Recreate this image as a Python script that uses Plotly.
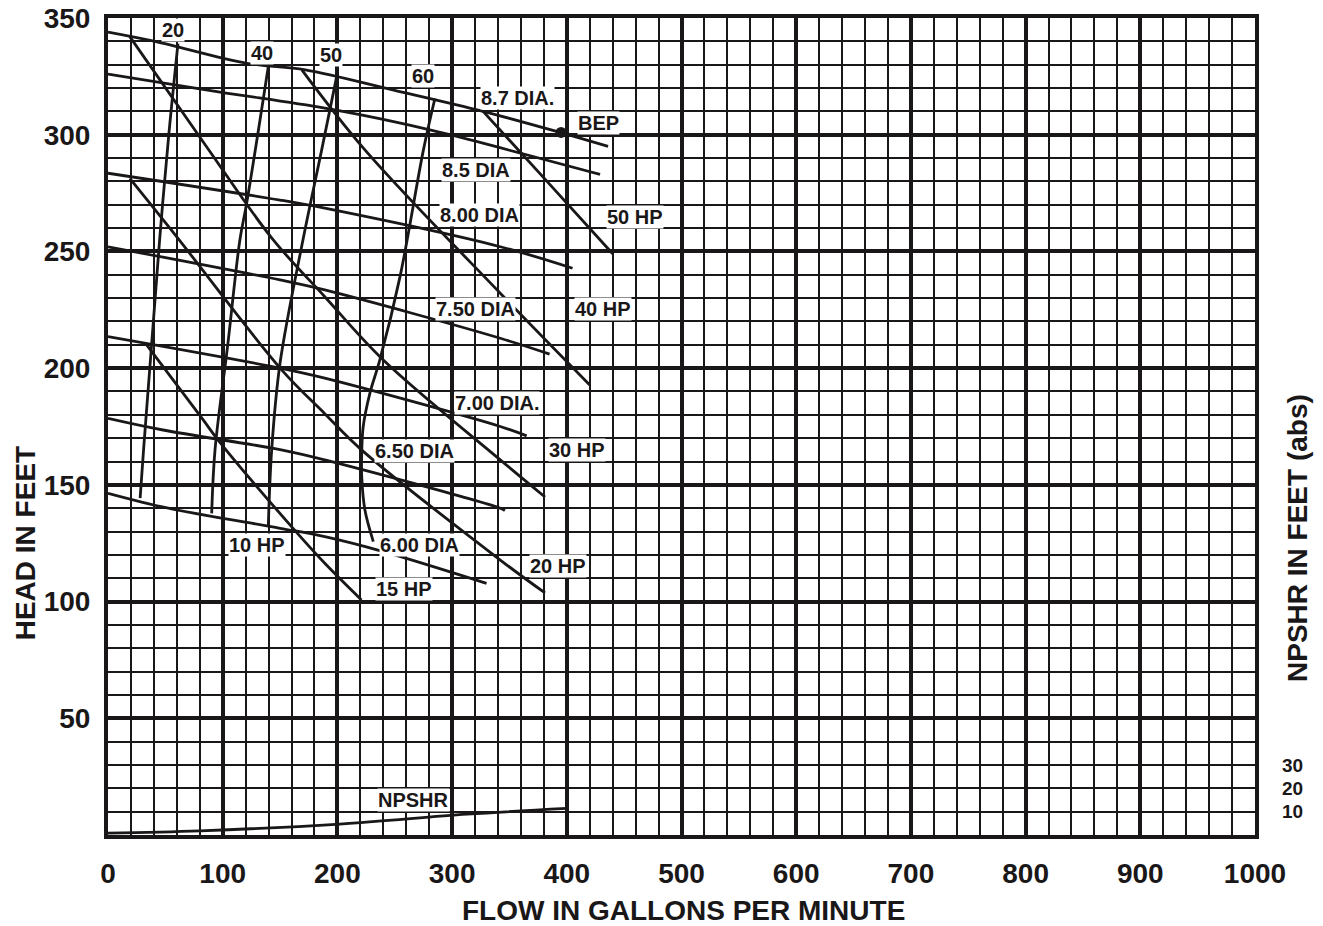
import plotly.graph_objects as go

# ---------------- data ----------------
# Impeller diameter curves (flow GPM, head ft)
dia_87_q = [0, 41, 121, 172, 250, 327, 394, 436]
dia_87_h = [344, 340, 330.6, 327.8, 319, 310, 301, 295]
dia_85_q = [0, 95, 189, 255, 298, 429]
dia_85_h = [326, 318.5, 311.4, 305, 300, 283]
dia_80_q = [0, 150, 189, 342, 405]
dia_80_h = [283.5, 272, 268.5, 252, 242.8]
dia_75_q = [0, 150, 189, 342, 385]
dia_75_h = [252, 237.8, 233.5, 212.8, 206]
dia_70_q = [0, 150, 189, 342, 365]
dia_70_h = [213.5, 200, 195.7, 175, 171]
dia_65_q = [0, 48, 151, 189, 342, 346]
dia_65_h = [178.5, 173.5, 165, 160.7, 140, 139]
dia_60_q = [0, 52.6, 150, 189, 240, 330]
dia_60_h = [146.4, 140, 131.4, 127.8, 121.4, 107.8]

# Horsepower curves
hp50_q = [327, 380, 440]
hp50_h = [310, 281.5, 249]
hp40_q = [169, 224, 342, 420]
hp40_h = [327.8, 293.5, 232.1, 192.8]
hp30_q = [19, 85, 143, 189, 240, 342, 381]
hp30_h = [342, 295.5, 255.6, 230.6, 203.5, 160.7, 144.8]
hp20_q = [19, 61, 151, 189, 221, 342, 381]
hp20_h = [281.3, 255.6, 199.5, 180.5, 165, 117.8, 103.7]
hp15_q = [33.7, 83, 96, 160, 189, 221]
hp15_h = [210, 177.8, 169.2, 132.1, 116.4, 100.7]

# Efficiency curves (%)
eff20_q = [61, 53, 45, 38, 31, 28]
eff20_h = [339, 300, 255, 210, 165, 144.3]
eff40_q = [140, 121, 115, 104.4, 93.3, 90.4]
eff40_h = [330, 271, 255, 210, 165, 137.8]
eff50_q = [199.4, 186.3, 170, 150, 142.7, 139.8]
eff50_h = [325, 293.5, 255, 202.2, 165, 132.8]
eff60_q = [285, 275, 254.6, 237, 228.3, 222.5, 221.2, 221.2, 224, 231.3]
eff60_h = [315.5, 293.5, 239.2, 203.5, 189.2, 175, 163.5, 153.5, 139.2, 125.7]

# NPSHR curve (ft abs)
npshr_q = [0, 80, 202, 313, 400]
npshr_h = [0.8, 1.8, 4.7, 8.9, 11.4]

# Best efficiency point
bep_q = [395]
bep_h = [301]

# Labels: (text, flow, head)
label_text = ["20", "40", "50", "60", "8.7 DIA.", "BEP", "8.5 DIA", "50 HP",
              "8.00 DIA", "7.50 DIA", "40 HP", "7.00 DIA.", "30 HP", "6.50 DIA",
              "6.00 DIA", "10 HP", "20 HP", "15 HP", "NPSHR"]
label_q = [57, 134, 194, 274.6, 357, 428, 321, 459.5,
           323.5, 320, 431.6, 339, 409, 267,
           272, 130, 392.3, 258, 266]
label_h = [345, 335, 334, 325, 315.8, 305, 285, 264.8,
           265.6, 225.4, 225.4, 185.1, 165, 164.5,
           124.2, 124.2, 115.3, 105.4, 15]

x_ticks = list(range(0, 1001, 100))
y_ticks = [50, 100, 150, 200, 250, 300, 350]
npshr_ticks = [10, 20, 30]

# ---------------- figure ----------------
FONT = "Liberation Sans"
INK = "#1a1718"
LINE = dict(color=INK, width=2.8)

fig = go.Figure()
curves = [
    (dia_87_q, dia_87_h), (dia_85_q, dia_85_h), (dia_80_q, dia_80_h),
    (dia_75_q, dia_75_h), (dia_70_q, dia_70_h), (dia_65_q, dia_65_h),
    (dia_60_q, dia_60_h),
    (hp50_q, hp50_h), (hp40_q, hp40_h), (hp30_q, hp30_h),
    (hp20_q, hp20_h), (hp15_q, hp15_h),
    (eff20_q, eff20_h), (eff40_q, eff40_h), (eff50_q, eff50_h), (eff60_q, eff60_h),
]
for q, h in curves:
    fig.add_trace(go.Scatter(x=q, y=h, mode="lines", line=LINE,
                             line_shape="spline", hoverinfo="skip", showlegend=False))

fig.add_trace(go.Scatter(x=npshr_q, y=npshr_h, mode="lines", line=LINE,
                         line_shape="spline", yaxis="y2", showlegend=False))
fig.add_trace(go.Scatter(x=bep_q, y=bep_h, mode="markers",
                         marker=dict(color=INK, size=11), showlegend=False))

for t, q, h in zip(label_text, label_q, label_h):
    fig.add_annotation(x=q, y=h, text=t, showarrow=False,
                       xanchor="center", yanchor="middle",
                       font=dict(family=FONT, size=20, color=INK, weight="bold"),
                       bgcolor="white", borderpad=0)

title_font = dict(family=FONT, size=28, color=INK, weight="bold")
fig.add_annotation(xref="paper", yref="paper", x=0.5017, y=-0.0918,
                   xanchor="center", yanchor="middle",
                   text="FLOW IN GALLONS PER MINUTE", showarrow=False, font=title_font)
fig.add_annotation(xref="paper", yref="paper", x=-0.0724, y=0.357,
                   xanchor="center", yanchor="middle",
                   text="HEAD IN FEET", textangle=-90, showarrow=False, font=title_font)
fig.add_annotation(xref="paper", yref="paper", x=1.0366, y=0.3635,
                   xanchor="center", yanchor="middle",
                   text="NPSHR IN FEET (abs)", textangle=-90, showarrow=False, font=title_font)

fig.update_layout(
    width=1323, height=926,
    margin=dict(l=108, r=68, t=18, b=91, autoexpand=False),
    paper_bgcolor="white", plot_bgcolor="white",
    showlegend=False,
    xaxis=dict(
        range=[0, 1000], tickmode="array", tickvals=x_ticks, automargin=False,
        showgrid=True, gridcolor=INK, gridwidth=3.5,
        minor=dict(tickmode="linear", tick0=0, dtick=20, showgrid=True,
                   gridcolor=INK, gridwidth=2),
        showline=True, linecolor=INK, linewidth=4, mirror=True,
        zeroline=False, ticks="", ticklabelstandoff=10, ticklabeloverflow="allow",
        tickfont=dict(family=FONT, size=28, color=INK, weight="bold"),
    ),
    yaxis=dict(
        range=[0, 350], tickmode="array", tickvals=y_ticks, automargin=False,
        showgrid=True, gridcolor=INK, gridwidth=3.5,
        minor=dict(tickmode="linear", tick0=0, dtick=10, showgrid=True,
                   gridcolor=INK, gridwidth=2),
        showline=True, linecolor=INK, linewidth=4, mirror=True,
        zeroline=False, ticks="", ticklabelstandoff=8, ticklabeloverflow="allow",
        tickfont=dict(family=FONT, size=28, color=INK, weight="bold"),
    ),
    yaxis2=dict(
        range=[0, 350], overlaying="y", side="right", automargin=False,
        tickmode="array", tickvals=npshr_ticks,
        showgrid=False, zeroline=False, showline=False, ticks="",
        ticklabelstandoff=26, ticklabeloverflow="allow",
        tickfont=dict(family=FONT, size=19, color=INK, weight="bold"),
    ),
)

# remove the browser's default 8px page margin so the figure sits at the top-left corner
fig.write_html("out.html",
               config={"displayModeBar": False},
               post_script="document.body.style.margin='0';document.body.style.overflow='hidden';")
